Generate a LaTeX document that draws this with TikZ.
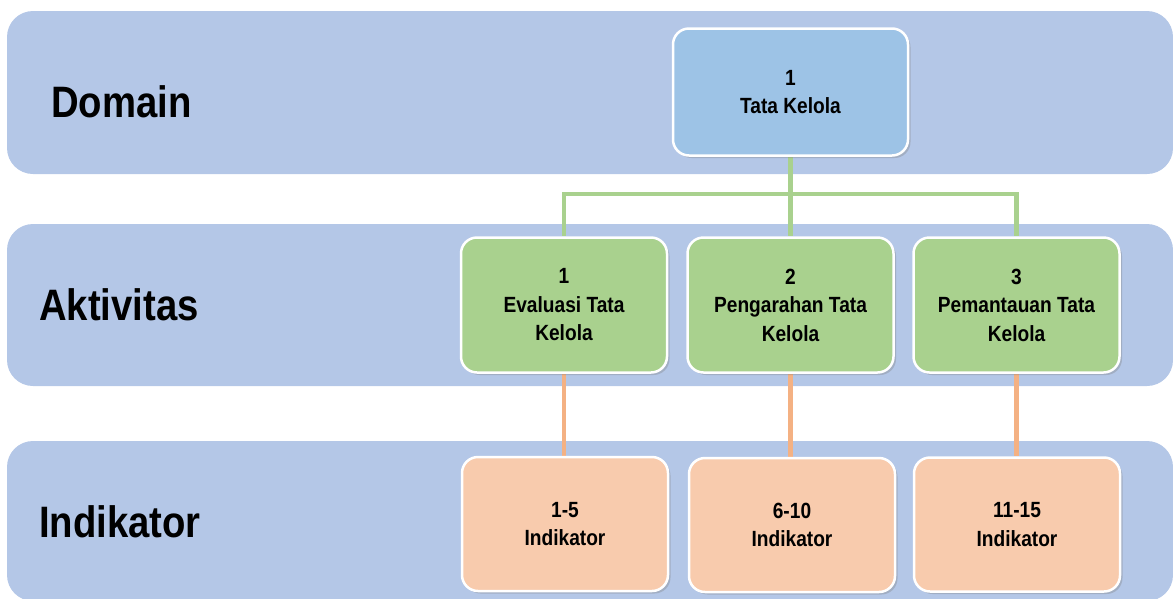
\documentclass[tikz,border=0pt]{standalone}
\usepackage{fontspec}
\setmainfont[FakeStretch=0.87]{Liberation Sans}
\usetikzlibrary{shadows}
\pgfdeclarelayer{bands}
\pgfdeclarelayer{lines}
\pgfsetlayers{bands,lines,main}
\definecolor{bandc}{HTML}{B4C7E7}
\definecolor{topc}{HTML}{9DC3E6}
\definecolor{greenc}{HTML}{A9D18E}
\definecolor{orangec}{HTML}{F8CBAD}
\definecolor{olinec}{HTML}{F4B183}
\tikzset{
  bandbox/.style={fill=bandc, draw=none, rounded corners=26pt, inner sep=0pt},
  lbl/.style={anchor=west, inner sep=0pt, font=\fontsize{44}{50}\selectfont\bfseries},
  boxbase/.style={draw=white, line width=2.5pt, rounded corners=16pt, align=center,
    font=\fontsize{22}{28.5}\selectfont\bfseries, inner sep=0pt,
    drop shadow={opacity=0.35, shadow xshift=2.5pt, shadow yshift=-2.5pt}},
  topbox/.style={boxbase, fill=topc, minimum width=235pt, minimum height=127pt},
  actbox/.style={boxbase, fill=greenc, minimum width=206pt, minimum height=135pt},
  indbox/.style={boxbase, fill=orangec, minimum width=206pt, minimum height=134pt},
  gline/.style={draw=greenc, line width=4.5pt},
  oline/.style={draw=olinec, line width=4.5pt},
}
\begin{document}
\begin{tikzpicture}[x=1pt,y=-1pt]
\useasboundingbox (0,0) rectangle (1173,598);
% bands
\begin{pgfonlayer}{bands}
\node[bandbox, minimum width=1166pt, minimum height=163pt] (b1) at (590,92.5) {};
\node[bandbox, minimum width=1166pt, minimum height=162pt] (b2) at (590,305) {};
\node[bandbox, minimum width=1166pt, minimum height=160pt] (b3) at (590,521) {};
\end{pgfonlayer}
% labels
\node[lbl] (ldom) at (51,102) {Domain};
\node[lbl] (lakt) at (39,305) {Aktivitas};
\node[lbl] (lind) at (39,522) {Indikator};
% boxes
\node[topbox] (top) at (790.5,92) {1\\Tata Kelola};
\node[actbox] (g1) at (564,305) {1\\Evaluasi Tata\\Kelola};
\node[actbox] (g2) at (790.5,305) {2\\Pengarahan Tata\\Kelola};
\node[actbox] (g3) at (1016.5,305) {3\\Pemantauan Tata\\Kelola};
\node[indbox] (o1) at (565,524) {1-5\\Indikator};
\node[indbox] (o2) at (792,525) {6-10\\Indikator};
\node[indbox] (o3) at (1017,524.5) {11-15\\Indikator};
% connectors
\coordinate (j) at (790.5,194);
\begin{pgfonlayer}{lines}
\draw[gline] (top.south) -- (j);
\draw[gline] (j) -| (g1.north);
\draw[gline] (j) -| (g3.north);
\draw[gline] (j) -- (g2.north);
\draw[oline] (g1.south) -- (g1.south |- o1.north);
\draw[oline] (g2.south) -- (g2.south |- o2.north);
\draw[oline] (g3.south) -- (g3.south |- o3.north);
\end{pgfonlayer}
\end{tikzpicture}
\end{document}
